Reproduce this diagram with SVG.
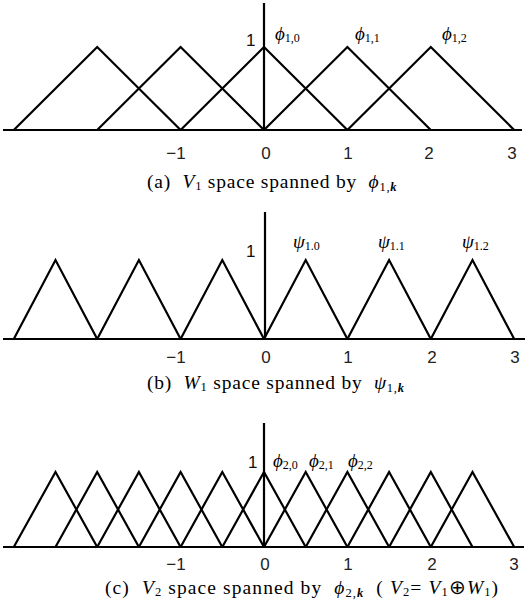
<svg xmlns="http://www.w3.org/2000/svg" width="527" height="616" viewBox="0 0 527 616">
<style>
.ln{fill:none;stroke:#000;stroke-width:2.2;stroke-linejoin:miter}
.ax{fill:none;stroke:#000;stroke-width:2.2}
.tk{font-family:"Liberation Sans",Arial,sans-serif;font-size:17px;fill:#222;text-anchor:middle}
.one{font-family:"Liberation Sans",Arial,sans-serif;font-size:17px;fill:#111}
.lb{font-family:"Liberation Serif","Times New Roman",serif;font-size:19px;font-style:italic;fill:#000}
.sb{font-style:normal;font-size:12px}
.cap{font-family:"Liberation Serif","Times New Roman",serif;font-size:19.5px;fill:#000;white-space:pre;letter-spacing:0.8px}
.it{font-style:italic}
.sub{font-size:12.5px}
</style>
<rect width="527" height="616" fill="#fff"/>

<g id="panel-a">
  <g id="axes-a">
    <line class="ax" x1="3" y1="130" x2="522" y2="130"/>
    <line class="ax" x1="264" y1="3" x2="264" y2="130"/>
  </g>
  <g id="curves-a">
    <polyline class="ln" points="13.8,130 97.2,47 180.6,130"/>
    <polyline class="ln" points="97.2,130 180.6,47 264,130"/>
    <polyline class="ln" points="180.6,130 264,47 347.4,130"/>
    <polyline class="ln" points="264,130 347.4,47 430.8,130"/>
    <polyline class="ln" points="347.4,130 430.8,47 514.2,130"/>
  </g>
  <text class="one" x="246" y="46">1</text>
  <text class="lb" x="275" y="40">ϕ<tspan class="sb" dy="2">1,0</tspan></text>
  <text class="lb" x="355" y="40">ϕ<tspan class="sb" dy="2">1,1</tspan></text>
  <text class="lb" x="442" y="40">ϕ<tspan class="sb" dy="2">1,2</tspan></text>
  <g id="ticks-a">
    <text class="tk" x="176" y="159">−1</text>
    <text class="tk" x="266" y="159">0</text>
    <text class="tk" x="348" y="159">1</text>
    <text class="tk" x="429" y="159">2</text>
    <text class="tk" x="512" y="159">3</text>
  </g>
  <text class="cap" x="147" y="188">(a)  <tspan class="it">V</tspan><tspan class="sub" dy="2">1</tspan><tspan dy="-2"> space spanned by  </tspan><tspan class="it">ϕ</tspan><tspan class="sub" dy="3">1,<tspan class="it" font-weight="bold">k</tspan></tspan></text>
</g>

<g id="panel-b">
  <g id="axes-b">
    <line class="ax" x1="3" y1="339" x2="525" y2="339"/>
    <line class="ax" x1="265" y1="212" x2="265" y2="339"/>
  </g>
  <g id="curves-b">
    <polyline class="ln" points="13.8,339 55.5,260 97.2,339"/>
    <polyline class="ln" points="97.2,339 138.9,260 180.6,339"/>
    <polyline class="ln" points="180.6,339 222.3,260 264,339"/>
    <polyline class="ln" points="264,339 305.7,260 347.4,339"/>
    <polyline class="ln" points="347.4,339 389.1,260 430.8,339"/>
    <polyline class="ln" points="430.8,339 472.5,260 514.2,339"/>
  </g>
  <text class="one" x="246" y="257">1</text>
  <text class="lb" x="293" y="248">ψ<tspan class="sb" dy="2">1.0</tspan></text>
  <text class="lb" x="378" y="248">ψ<tspan class="sb" dy="2">1.1</tspan></text>
  <text class="lb" x="462" y="248">ψ<tspan class="sb" dy="2">1.2</tspan></text>
  <g id="ticks-b">
    <text class="tk" x="176" y="363">−1</text>
    <text class="tk" x="266" y="363">0</text>
    <text class="tk" x="348" y="363">1</text>
    <text class="tk" x="432" y="363">2</text>
    <text class="tk" x="515" y="363">3</text>
  </g>
  <text class="cap" x="147" y="389">(b)  <tspan class="it">W</tspan><tspan class="sub" dy="2">1</tspan><tspan dy="-2"> space spanned by  </tspan><tspan class="it">ψ</tspan><tspan class="sub" dy="3">1,<tspan class="it" font-weight="bold">k</tspan></tspan></text>
</g>

<g id="panel-c">
  <g id="axes-c">
    <line class="ax" x1="3" y1="547" x2="524" y2="547"/>
    <line class="ax" x1="264" y1="423" x2="264" y2="547"/>
  </g>
  <g id="curves-c">
    <polyline class="ln" points="13.8,547 55.5,472 97.2,547"/>
    <polyline class="ln" points="55.5,547 97.2,472 138.9,547"/>
    <polyline class="ln" points="97.2,547 138.9,472 180.6,547"/>
    <polyline class="ln" points="138.9,547 180.6,472 222.3,547"/>
    <polyline class="ln" points="180.6,547 222.3,472 264,547"/>
    <polyline class="ln" points="222.3,547 264,472 305.7,547"/>
    <polyline class="ln" points="264,547 305.7,472 347.4,547"/>
    <polyline class="ln" points="305.7,547 347.4,472 389.1,547"/>
    <polyline class="ln" points="347.4,547 389.1,472 430.8,547"/>
    <polyline class="ln" points="389.1,547 430.8,472 472.5,547"/>
    <polyline class="ln" points="430.8,547 472.5,472 514.2,547"/>
  </g>
  <text class="one" x="248" y="468">1</text>
  <text class="lb" x="273" y="467">ϕ<tspan class="sb" dy="2">2,0</tspan></text>
  <text class="lb" x="309" y="467">ϕ<tspan class="sb" dy="2">2,1</tspan></text>
  <text class="lb" x="348" y="467">ϕ<tspan class="sb" dy="2">2,2</tspan></text>
  <g id="ticks-c">
    <text class="tk" x="176" y="570">−1</text>
    <text class="tk" x="265" y="570">0</text>
    <text class="tk" x="348" y="570">1</text>
    <text class="tk" x="432" y="570">2</text>
    <text class="tk" x="514" y="570">3</text>
  </g>
  <text class="cap" x="105" y="594" style="letter-spacing:1.1px">(c)  <tspan class="it">V</tspan><tspan class="sub" dy="2">2</tspan><tspan dy="-2"> space spanned by  </tspan><tspan class="it">ϕ</tspan><tspan class="sub" dy="3">2,<tspan class="it" font-weight="bold">k</tspan></tspan><tspan dy="-3">  ( </tspan><tspan class="it">V</tspan><tspan class="sub" dy="2">2</tspan><tspan dy="-2">= </tspan><tspan class="it">V</tspan><tspan class="sub" dy="2">1</tspan><tspan dy="-2">⊕</tspan><tspan class="it">W</tspan><tspan class="sub" dy="2">1</tspan><tspan dy="-2">)</tspan></text>
</g>
</svg>
